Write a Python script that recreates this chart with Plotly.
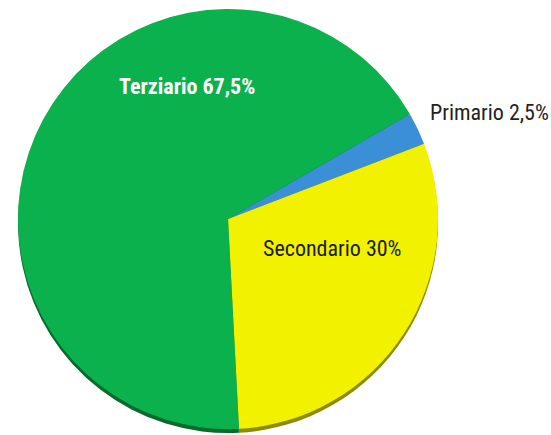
import plotly.graph_objects as go

categories = ["Primario", "Secondario", "Terziario"]
values = [2.5, 30, 67.5]
label_texts = ["Primario 2,5%", "Secondario 30%", "Terziario 67,5%"]

colors = ["#3A8FD6", "#F2F200", "#0BB14D"]
shadow_colors = ["#1F5A8C", "#8C8C00", "#0A6A2E"]

W, H = 551, 435
cx, cy, r = 228, 219, 210  # pixel centre (from top) and radius
shadow_dy = 4

def dom(cx, cy, r):
    yb = H - cy
    return dict(x=[(cx - r) / W, (cx + r) / W], y=[(yb - r) / H, (yb + r) / H])

fig = go.Figure()
fig.add_trace(go.Pie(
    labels=categories, values=values, sort=False, direction="clockwise",
    rotation=60, marker=dict(colors=shadow_colors, line=dict(width=0)),
    textinfo="none", hoverinfo="skip", showlegend=False,
    domain=dom(cx, cy + shadow_dy, r),
))
fig.add_trace(go.Pie(
    labels=categories, values=values, sort=False, direction="clockwise",
    rotation=60, marker=dict(colors=colors, line=dict(width=0)),
    textinfo="none", showlegend=False,
    domain=dom(cx, cy, r),
))

font_family = "Liberation Sans Narrow, Arial Narrow, Roboto Condensed, sans-serif"
label_pos = [(489, 113, "#222222", False), (332, 248, "#1A1A1A", False), (187, 86, "#FFFFFF", True)]
for txt, (x, y, col, bold) in zip(label_texts, label_pos):
    fig.add_annotation(
        x=x / W, y=1 - y / H, xref="paper", yref="paper", showarrow=False,
        text=f"<b>{txt}</b>" if bold else txt,
        font=dict(family=font_family, size=22, color=col),
        xanchor="center", yanchor="middle",
    )

fig.update_layout(
    width=W, height=H, margin=dict(l=0, r=0, t=0, b=0),
    paper_bgcolor="white", plot_bgcolor="white",
)
fig.write_html("out.html", config={"displayModeBar": False},
               post_script="document.body.style.margin='0';")
